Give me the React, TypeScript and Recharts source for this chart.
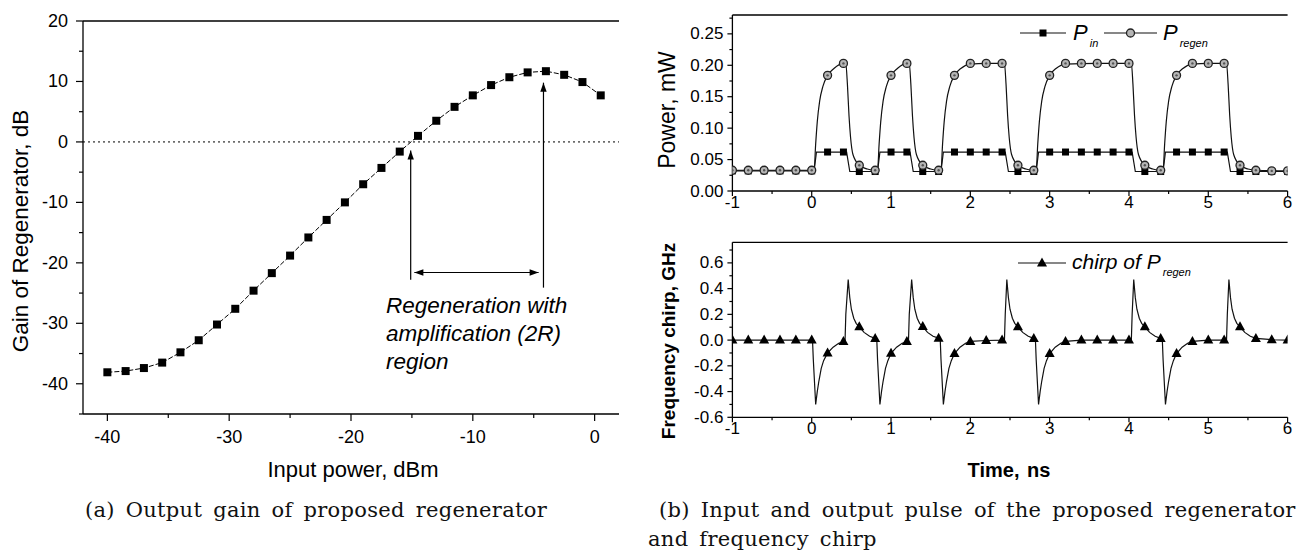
import React from "react";
import { ComposedChart, Line, XAxis, YAxis, ReferenceLine } from "recharts";

const SANS = "'Liberation Sans', Arial, sans-serif";
const SERIF = "'DejaVu Serif', 'Liberation Serif', serif";

// ---------- (a) gain of regenerator ----------
const inputPower = [
  -40, -38.5, -37, -35.5, -34, -32.5, -31, -29.5, -28, -26.5, -25, -23.5, -22, -20.5,
  -19, -17.5, -16, -14.5, -13, -11.5, -10, -8.5, -7, -5.5, -4, -2.5, -1, 0.5,
];
const gain = [
  -38.1, -37.9, -37.4, -36.5, -34.8, -32.8, -30.2, -27.6, -24.6, -21.7, -18.8, -15.8, -12.9, -10.0,
  -7.0, -4.3, -1.6, 1.0, 3.5, 5.8, 7.7, 9.4, 10.7, 11.5, 11.7, 11.1, 9.9, 7.7,
];
const gainXTicks = [-40, -30, -20, -10, 0];
const gainXMinor = [-35, -25, -15, -5];
const gainYTicks = [-40, -30, -20, -10, 0, 10, 20];
const gainYMinor = [-45, -35, -25, -15, -5, 5, 15];

// arrows of the 2R region, in data units
const arrowStart = { x: -15.1, y0: -22.8, y1: -1.4 };
const arrowEnd = { x: -4.2, y0: -24.1, y1: 9.8 };
const regionSpan = { y: -21.6, x0: -14.8, x1: -4.6 };

// ---------- (b) pulses ----------
const markTimes = [
  -1, -0.8, -0.6, -0.4, -0.2, 0, 0.2, 0.4, 0.6, 0.8, 1, 1.2, 1.4, 1.6, 1.8, 2, 2.2, 2.4,
  2.6, 2.8, 3, 3.2, 3.4, 3.6, 3.8, 4, 4.2, 4.4, 4.6, 4.8, 5, 5.2, 5.4, 5.6, 5.8, 6,
];
const pinMarks = [
  0.032, 0.032, 0.032, 0.032, 0.032, 0.032, 0.062, 0.062, 0.031, 0.031, 0.062, 0.062, 0.031, 0.031,
  0.062, 0.062, 0.062, 0.062, 0.031, 0.031, 0.062, 0.062, 0.062, 0.062, 0.062, 0.062, 0.031, 0.031,
  0.062, 0.062, 0.062, 0.062, 0.031, 0.031, 0.031, 0.031,
];
const regenMarks = [
  0.033, 0.033, 0.033, 0.033, 0.033, 0.033, 0.184, 0.203, 0.041, 0.033, 0.184, 0.203, 0.041, 0.033,
  0.184, 0.203, 0.203, 0.203, 0.041, 0.033, 0.184, 0.203, 0.203, 0.203, 0.203, 0.203, 0.041, 0.033,
  0.184, 0.203, 0.203, 0.203, 0.041, 0.033, 0.032, 0.032,
];
const chirpMarks = [
  0, 0, 0, 0, 0, 0, -0.1, -0.01, 0.103, 0.013, -0.103, -0.01, 0.105, 0.015, -0.105, -0.01, -0.003, 0,
  0.103, 0.013, -0.105, -0.01, 0, 0, 0, 0, 0.103, 0.013, -0.105, -0.01, 0, 0, 0.103, 0.013, 0.003, 0,
];

const pinCurve: [number, number][] = [
  [-1, 0.032], [0.03, 0.032], [0.06, 0.062], [0.44, 0.062], [0.48, 0.031], [0.83, 0.031],
  [0.86, 0.062], [1.24, 0.062], [1.28, 0.031], [1.63, 0.031], [1.66, 0.062], [2.44, 0.062],
  [2.48, 0.031], [2.83, 0.031], [2.86, 0.062], [4.04, 0.062], [4.08, 0.031], [4.43, 0.031],
  [4.46, 0.062], [5.24, 0.062], [5.28, 0.031], [6, 0.031],
];
const regenCurve: [number, number][] = [
  [-1, 0.033], [0.03, 0.033], [0.05, 0.075], [0.07, 0.11], [0.1, 0.143], [0.14, 0.166], [0.2, 0.184],
  [0.28, 0.195], [0.4, 0.203], [0.43, 0.202], [0.45, 0.17], [0.47, 0.12], [0.49, 0.085], [0.52, 0.058],
  [0.6, 0.041], [0.7, 0.035], [0.8, 0.033],
  [0.83, 0.033], [0.85, 0.075], [0.87, 0.11], [0.9, 0.143], [0.94, 0.166], [1.0, 0.184], [1.08, 0.195],
  [1.2, 0.203], [1.23, 0.202], [1.25, 0.17], [1.27, 0.12], [1.29, 0.085], [1.32, 0.058], [1.4, 0.041],
  [1.5, 0.035], [1.6, 0.033],
  [1.63, 0.033], [1.65, 0.075], [1.67, 0.11], [1.7, 0.143], [1.74, 0.166], [1.8, 0.184], [1.88, 0.195],
  [2.0, 0.202], [2.2, 0.203], [2.43, 0.203], [2.45, 0.17], [2.47, 0.12], [2.49, 0.085], [2.52, 0.058],
  [2.6, 0.041], [2.7, 0.035], [2.8, 0.033],
  [2.83, 0.033], [2.85, 0.075], [2.87, 0.11], [2.9, 0.143], [2.94, 0.166], [3.0, 0.184], [3.08, 0.195],
  [3.2, 0.202], [3.6, 0.203], [4.03, 0.203], [4.05, 0.17], [4.07, 0.12], [4.09, 0.085], [4.12, 0.058],
  [4.2, 0.041], [4.3, 0.035], [4.4, 0.033],
  [4.43, 0.033], [4.45, 0.075], [4.47, 0.11], [4.5, 0.143], [4.54, 0.166], [4.6, 0.184], [4.68, 0.195],
  [4.8, 0.202], [5.0, 0.203], [5.23, 0.203], [5.25, 0.17], [5.27, 0.12], [5.29, 0.085], [5.32, 0.058],
  [5.4, 0.041], [5.5, 0.035], [5.6, 0.033], [6, 0.032],
];
const chirpCurve: [number, number][] = [
  [-1, 0], [0.01, 0],
  [0.02, -0.15], [0.05, -0.5], [0.07, -0.4], [0.09, -0.32], [0.12, -0.22], [0.15, -0.16], [0.2, -0.1],
  [0.27, -0.055], [0.34, -0.025], [0.42, -0.01],
  [0.43, 0.2], [0.46, 0.47], [0.48, 0.33], [0.5, 0.24], [0.53, 0.17], [0.56, 0.13], [0.6, 0.103],
  [0.66, 0.06], [0.73, 0.03], [0.8, 0.013], [0.82, 0.01],
  [0.83, -0.15], [0.86, -0.5], [0.88, -0.4], [0.9, -0.32], [0.93, -0.22], [0.96, -0.16], [1.0, -0.103],
  [1.07, -0.055], [1.14, -0.025], [1.22, -0.01],
  [1.23, 0.2], [1.26, 0.47], [1.28, 0.33], [1.3, 0.24], [1.33, 0.17], [1.36, 0.13], [1.4, 0.105],
  [1.46, 0.06], [1.53, 0.03], [1.6, 0.015], [1.62, 0.012],
  [1.63, -0.15], [1.66, -0.5], [1.68, -0.4], [1.7, -0.32], [1.73, -0.22], [1.76, -0.16], [1.8, -0.105],
  [1.87, -0.055], [1.94, -0.025], [2.0, -0.01], [2.2, -0.003], [2.43, 0],
  [2.44, 0.2], [2.46, 0.47], [2.48, 0.33], [2.5, 0.24], [2.53, 0.17], [2.56, 0.13], [2.6, 0.103],
  [2.66, 0.06], [2.73, 0.03], [2.8, 0.013], [2.82, 0.01],
  [2.83, -0.15], [2.86, -0.5], [2.88, -0.4], [2.9, -0.32], [2.93, -0.22], [2.96, -0.16], [3.0, -0.105],
  [3.07, -0.055], [3.14, -0.025], [3.2, -0.01], [3.4, 0], [4.03, 0],
  [4.04, 0.2], [4.06, 0.47], [4.08, 0.33], [4.1, 0.24], [4.13, 0.17], [4.16, 0.13], [4.2, 0.103],
  [4.26, 0.06], [4.33, 0.03], [4.4, 0.013], [4.42, 0.01],
  [4.43, -0.15], [4.46, -0.5], [4.48, -0.4], [4.5, -0.32], [4.53, -0.22], [4.56, -0.16], [4.6, -0.105],
  [4.67, -0.055], [4.74, -0.025], [4.8, -0.01], [5.0, 0], [5.23, 0],
  [5.24, 0.2], [5.26, 0.47], [5.28, 0.33], [5.3, 0.24], [5.33, 0.17], [5.36, 0.13], [5.4, 0.103],
  [5.46, 0.06], [5.53, 0.03], [5.6, 0.013], [5.8, 0.003], [6, 0],
];

const timeTicks = [-1, 0, 1, 2, 3, 4, 5, 6];
const timeMinor = [-0.5, 0.5, 1.5, 2.5, 3.5, 4.5, 5.5];
const powerTicks = [0, 0.05, 0.1, 0.15, 0.2, 0.25];
const powerMinor = [0.025, 0.075, 0.125, 0.175, 0.225, 0.275];
const chirpTicks = [-0.6, -0.4, -0.2, 0, 0.2, 0.4, 0.6];
const chirpMinor = [-0.5, -0.3, -0.1, 0.1, 0.3, 0.5, 0.7];

const gainData = inputPower.map((x, i) => ({ x, y: gain[i] }));
const toPts = (arr: [number, number][]) => arr.map(([t, v]) => ({ t, v }));
const markData = markTimes.map((t, i) => ({ t, pin: pinMarks[i], reg: regenMarks[i], chirp: chirpMarks[i] }));

// ---------- ticks ----------
type TickOpts = {
  side: "left" | "right" | "bottom";
  majors: number[];
  fmt?: (v: number) => string;
  major: number;
  minor: number;
  off?: number;
  size?: number;
};

function makeTick(o: TickOpts) {
  return (p: any) => {
    const v = p.payload.value;
    const isMajor = o.majors.some((m) => Math.abs(m - v) < 1e-9);
    const len = isMajor ? o.major : o.minor;
    const txt = isMajor && o.fmt ? o.fmt(v) : null;
    if (o.side === "bottom") {
      return (
        <g>
          <line x1={p.x} x2={p.x} y1={p.y} y2={p.y + len} stroke="#000" strokeWidth={1.2} />
          {txt && (
            <text x={p.x} y={p.y + (o.off || 0)} textAnchor="middle" dominantBaseline="central"
              fontFamily={SANS} fontSize={o.size} fill="#000">{txt}</text>
          )}
        </g>
      );
    }
    if (o.side === "left") {
      return (
        <g>
          <line x1={p.x} x2={p.x - len} y1={p.y} y2={p.y} stroke="#000" strokeWidth={1.2} />
          {txt && (
            <text x={p.x - (o.off || 0)} y={p.y} textAnchor="end" dominantBaseline="central"
              fontFamily={SANS} fontSize={o.size} fill="#000">{txt}</text>
          )}
        </g>
      );
    }
    return <line x1={p.x} x2={p.x - len} y1={p.y} y2={p.y} stroke="#000" strokeWidth={1.2} />;
  };
}

// ---------- markers ----------
const Square = (s: number) => (p: any) =>
  p.cx == null || p.value == null ? <g /> : <rect x={p.cx - s / 2} y={p.cy - s / 2} width={s} height={s} fill="#000" />;
const Circle = (p: any) =>
  p.cx == null ? <g /> : (
    <g>
      <circle cx={p.cx} cy={p.cy} r={4} fill="#b5b5b5" stroke="#222" strokeWidth={1.3} />
      <circle cx={p.cx} cy={p.cy} r={1.2} fill="#555" />
    </g>
  );
const Triangle = (p: any) =>
  p.cx == null ? <g /> : (
    <polygon points={`${p.cx},${p.cy - 5.5} ${p.cx - 5},${p.cy + 3.5} ${p.cx + 5},${p.cy + 3.5}`} fill="#000" />
  );

const arrowShape = (heads: "end" | "both") => (p: any) => {
  const { x1, y1, x2, y2 } = p;
  const ang = Math.atan2(y2 - y1, x2 - x1);
  const head = (x: number, y: number, a: number) => {
    const l = 9, w = 3.2;
    const bx = x - l * Math.cos(a), by = y - l * Math.sin(a);
    return `${x},${y} ${bx - w * Math.sin(a)},${by + w * Math.cos(a)} ${bx + w * Math.sin(a)},${by - w * Math.cos(a)}`;
  };
  return (
    <g>
      <line x1={x1} y1={y1} x2={x2} y2={y2} stroke="#000" strokeWidth={1.2} />
      <polygon points={head(x2, y2, ang)} fill="#000" />
      {heads === "both" && <polygon points={head(x1, y1, ang + Math.PI)} fill="#000" />}
    </g>
  );
};

const abs = (left: number, top: number, extra: React.CSSProperties = {}): React.CSSProperties => ({
  position: "absolute", left, top, whiteSpace: "nowrap", lineHeight: 1, ...extra,
});
const centered = (x: number, y: number, rot = false, extra: React.CSSProperties = {}) =>
  abs(x, y, { transform: `translate(-50%,-50%)${rot ? " rotate(-90deg)" : ""}`, ...extra });

const subStyle: React.CSSProperties = { fontSize: 11, verticalAlign: -7, marginLeft: 2 };
const caption: React.CSSProperties = { fontFamily: SERIF, fontSize: 21, letterSpacing: 0.3, wordSpacing: 4, color: "#111" };

function LegendKey({ x, y, w, marker }: { x: number; y: number; w: number; marker: "sq" | "ci" | "tri" }) {
  const c = w / 2;
  return (
    <svg style={{ position: "absolute", left: x, top: y - 8 }} width={w} height={16}>
      <line x1={0} x2={w} y1={8} y2={8} stroke="#111" strokeWidth={1.2} />
      {marker === "sq" && <rect x={c - 3.5} y={4.5} width={7} height={7} fill="#000" />}
      {marker === "ci" && <circle cx={c} cy={8} r={4} fill="#b5b5b5" stroke="#222" strokeWidth={1.3} />}
      {marker === "tri" && <polygon points={`${c},2.5 ${c - 5},11.5 ${c + 5},11.5`} fill="#000" />}
    </svg>
  );
}

export default function App() {
  const ax = { stroke: "#000", strokeWidth: 1.3 };
  return (
    <div style={{ position: "relative", width: 1301, height: 553, background: "#fff", overflow: "hidden", fontFamily: SANS }}>
      <style>{"body{margin:0}"}</style>

      {/* (a) */}
      <div style={{ position: "absolute", left: 0, top: 0 }}>
        <ComposedChart width={640} height={460} data={gainData} margin={{ top: 21, right: 21, bottom: 16, left: 23 }}>
          <XAxis type="number" dataKey="x" domain={[-42, 2]} allowDataOverflow ticks={[...gainXTicks, ...gainXMinor]}
            interval={0} height={30} tickSize={0} tickMargin={0} tickLine={false} axisLine={ax}
            tick={makeTick({ side: "bottom", majors: gainXTicks, fmt: String, major: 7, minor: 4, off: 23, size: 18 })} />
          <YAxis type="number" domain={[-45, 20]} allowDataOverflow ticks={[...gainYTicks, ...gainYMinor]}
            interval={0} width={60} tickSize={0} tickMargin={0} tickLine={false} axisLine={ax}
            tick={makeTick({ side: "left", majors: gainYTicks, fmt: String, major: 7, minor: 4, off: 15, size: 18 })} />
          <YAxis yAxisId="r" orientation="right" type="number" domain={[-45, 20]} allowDataOverflow
            ticks={[...gainYTicks, ...gainYMinor]} interval={0} width={0} tickSize={0} tickMargin={0}
            tickLine={false} axisLine={ax} tick={makeTick({ side: "right", majors: gainYTicks, major: 7, minor: 4 })} />
          <ReferenceLine y={20} stroke="#000" strokeWidth={1.3} />
          <ReferenceLine y={0} stroke="#000" strokeWidth={1} strokeDasharray="2 3" />
          <ReferenceLine segment={[{ x: arrowStart.x, y: arrowStart.y0 }, { x: arrowStart.x, y: arrowStart.y1 }]}
            shape={arrowShape("end")} />
          <ReferenceLine segment={[{ x: arrowEnd.x, y: arrowEnd.y0 }, { x: arrowEnd.x, y: arrowEnd.y1 }]}
            shape={arrowShape("end")} />
          <ReferenceLine segment={[{ x: regionSpan.x0, y: regionSpan.y }, { x: regionSpan.x1, y: regionSpan.y }]}
            shape={arrowShape("both")} />
          <Line dataKey="y" type="linear" stroke="#000" strokeWidth={1} strokeDasharray="5 2"
            dot={Square(8)} activeDot={false} isAnimationActive={false} />
        </ComposedChart>
      </div>
      <div style={centered(21, 231, true, { fontSize: 22.5 })}>Gain of Regenerator, dB</div>
      <div style={centered(353, 470, false, { fontSize: 22 })}>Input power, dBm</div>
      <div style={abs(386, 292, { fontSize: 22.5, fontStyle: "italic", lineHeight: "28px" })}>
        Regeneration with<br />amplification (2R)<br />region
      </div>
      <div style={abs(85, 500, caption)}>(a) Output gain of proposed regenerator</div>

      {/* (b) top: power */}
      <div style={{ position: "absolute", left: 640, top: 0 }}>
        <ComposedChart width={661} height={230} margin={{ top: 15, right: 13.4, bottom: 9, left: 32.4 }}>
          <XAxis type="number" dataKey="t" domain={[-1, 6]} allowDataOverflow ticks={[...timeTicks, ...timeMinor]}
            interval={0} height={30} tickSize={0} tickMargin={0} tickLine={false} axisLine={ax}
            tick={makeTick({ side: "bottom", majors: timeTicks, fmt: String, major: 5, minor: 3, off: 11, size: 17 })} />
          <YAxis type="number" domain={[0, 0.28]} allowDataOverflow ticks={[...powerTicks, ...powerMinor]}
            interval={0} width={60} tickSize={0} tickMargin={0} tickLine={false} axisLine={ax}
            tick={makeTick({ side: "left", majors: powerTicks, fmt: (v) => v.toFixed(2), major: 5, minor: 3, off: 9, size: 17 })} />
          <YAxis yAxisId="r" orientation="right" type="number" domain={[0, 0.28]} allowDataOverflow
            ticks={[...powerTicks, ...powerMinor]} interval={0} width={0} tickSize={0} tickMargin={0}
            tickLine={false} axisLine={ax} tick={makeTick({ side: "right", majors: powerTicks, major: 5, minor: 3 })} />
          <ReferenceLine y={0.28} stroke="#000" strokeWidth={1.3} />
          <Line data={toPts(pinCurve)} dataKey="v" type="linear" stroke="#111" strokeWidth={1.2}
            dot={false} activeDot={false} isAnimationActive={false} />
          <Line data={toPts(regenCurve)} dataKey="v" type="monotone" stroke="#111" strokeWidth={1.2}
            dot={false} activeDot={false} isAnimationActive={false} />
          <Line data={markData} dataKey="pin" stroke="none" dot={Square(7)} activeDot={false} isAnimationActive={false} />
          <Line data={markData} dataKey="reg" stroke="none" dot={Circle} activeDot={false} isAnimationActive={false} />
        </ComposedChart>
      </div>
      <LegendKey x={1020} y={33} w={46} marker="sq" />
      <div style={abs(1073, 22, { fontSize: 22, fontStyle: "italic" })}>P<span style={subStyle}>in</span></div>
      <LegendKey x={1104} y={33} w={53} marker="ci" />
      <div style={abs(1163, 22, { fontSize: 22, fontStyle: "italic" })}>P<span style={subStyle}>regen</span></div>
      <div style={centered(667, 110, true, { fontSize: 23 })}>Power, mW</div>

      {/* (b) bottom: chirp */}
      <div style={{ position: "absolute", left: 640, top: 230 }}>
        <ComposedChart width={661} height={230} margin={{ top: 12.3, right: 13.4, bottom: 12.7, left: 32.4 }}>
          <XAxis type="number" dataKey="t" domain={[-1, 6]} allowDataOverflow ticks={[...timeTicks, ...timeMinor]}
            interval={0} height={30} tickSize={0} tickMargin={0} tickLine={false} axisLine={ax}
            tick={makeTick({ side: "bottom", majors: timeTicks, fmt: String, major: 5, minor: 3, off: 11, size: 17 })} />
          <YAxis type="number" domain={[-0.6, 0.76]} allowDataOverflow ticks={[...chirpTicks, ...chirpMinor]}
            interval={0} width={60} tickSize={0} tickMargin={0} tickLine={false} axisLine={ax}
            tick={makeTick({ side: "left", majors: chirpTicks, fmt: (v) => v.toFixed(1), major: 5, minor: 3, off: 9, size: 17 })} />
          <YAxis yAxisId="r" orientation="right" type="number" domain={[-0.6, 0.76]} allowDataOverflow
            ticks={[...chirpTicks, ...chirpMinor]} interval={0} width={0} tickSize={0} tickMargin={0}
            tickLine={false} axisLine={ax} tick={makeTick({ side: "right", majors: chirpTicks, major: 5, minor: 3 })} />
          <ReferenceLine y={0.76} stroke="#000" strokeWidth={1.3} />
          <Line data={toPts(chirpCurve)} dataKey="v" type="linear" stroke="#111" strokeWidth={1.2}
            dot={false} activeDot={false} isAnimationActive={false} />
          <Line data={markData} dataKey="chirp" stroke="none" dot={Triangle} activeDot={false} isAnimationActive={false} />
        </ComposedChart>
      </div>
      <LegendKey x={1018} y={263} w={48} marker="tri" />
      <div style={abs(1072, 251, { fontSize: 21, fontStyle: "italic" })}>
        chirp of P<span style={subStyle}>regen</span>
      </div>
      <div style={centered(668, 341, true, { fontSize: 19, fontWeight: "bold" })}>Frequency chirp, GHz</div>
      <div style={centered(1009, 470, false, { fontSize: 20, fontWeight: "bold", wordSpacing: 2 })}>Time, ns</div>
      <div style={abs(659, 500, caption)}>(b) Input and output pulse of the proposed regenerator</div>
      <div style={abs(648, 529, caption)}>and frequency chirp</div>
    </div>
  );
}
